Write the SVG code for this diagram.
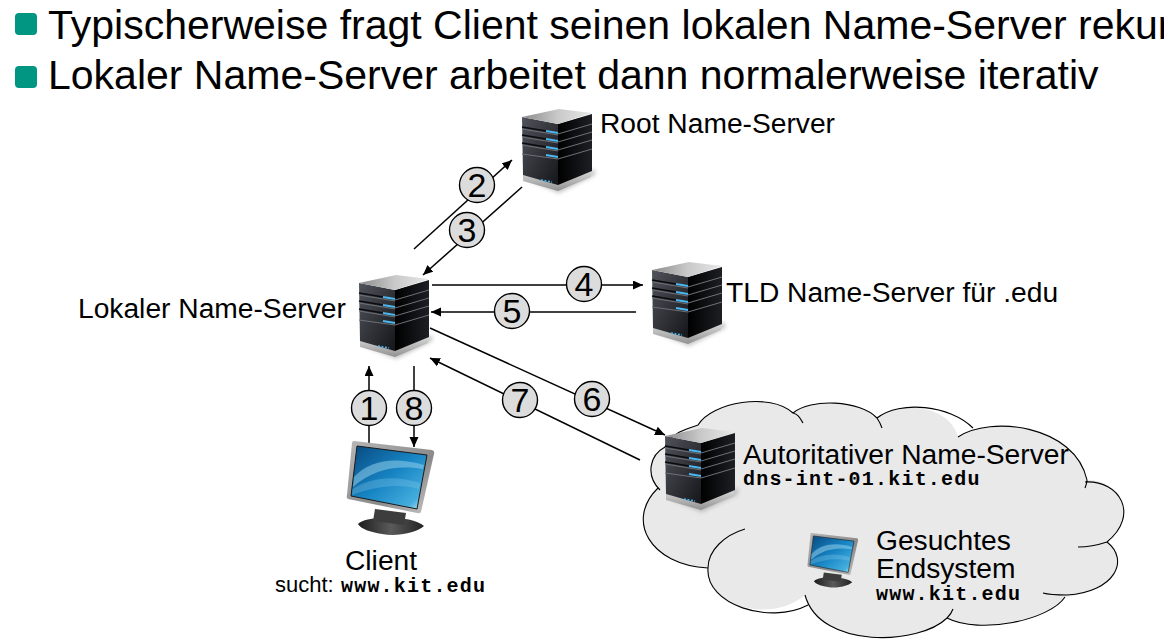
<svg xmlns="http://www.w3.org/2000/svg" width="1164" height="639" viewBox="0 0 1164 639">
<style>
text{font-family:"Liberation Sans",Arial,sans-serif;fill:#000}
.h{font-size:41px}
.l{font-size:28.2px}
.m{font-family:"Liberation Mono","Courier New",monospace;font-weight:bold;font-size:20px;letter-spacing:1.2px}
.s{font-size:22px}
.n{font-size:34px;text-anchor:middle}
.b{fill:#009682}
.c{fill:none;stroke:#000;stroke-width:1.5;marker-end:url(#a)}
.k{fill:#dcdcdc;stroke:#000;stroke-width:1.4}
.cl{fill:none;stroke:#000;stroke-width:1.1}
</style>
<defs>
<marker id="a" markerUnits="userSpaceOnUse" markerWidth="12" markerHeight="12" refX="10" refY="4.5" orient="auto"><path d="M0 0L10 4.5L0 9Z" fill="#000"/></marker>
<linearGradient id="top" x1="0" y1="0" x2="1" y2="0"><stop offset="0" stop-color="#8a8a8a"/><stop offset=".5" stop-color="#c8c8c8"/><stop offset="1" stop-color="#e8e8e8"/></linearGradient>
<linearGradient id="front" x1="0" y1="0" x2="1" y2="1"><stop offset="0" stop-color="#50535b"/><stop offset="1" stop-color="#15161a"/></linearGradient>
<linearGradient id="side" x1="0" y1="0" x2="1" y2="0"><stop offset="0" stop-color="#000"/><stop offset="1" stop-color="#1d1f24"/></linearGradient>
<linearGradient id="base" x1="0" y1="0" x2="0" y2="1"><stop offset="0" stop-color="#dcdcdc"/><stop offset="1" stop-color="#909090"/></linearGradient>
<linearGradient id="scr" x1="0" y1="0" x2="1" y2="1"><stop offset="0" stop-color="#08487f"/><stop offset=".5" stop-color="#1785c4"/><stop offset=".85" stop-color="#45aede"/><stop offset="1" stop-color="#d4f0f8"/></linearGradient>
<linearGradient id="frame" x1="0" y1="0" x2="1" y2="1"><stop offset="0" stop-color="#b8b8b8"/><stop offset=".6" stop-color="#8a8a8a"/><stop offset="1" stop-color="#c6c6c6"/></linearGradient>
<linearGradient id="foot" x1="0" y1="0" x2="1" y2="0"><stop offset="0" stop-color="#1c1c1c"/><stop offset=".5" stop-color="#5a5a5a"/><stop offset="1" stop-color="#222"/></linearGradient>
<filter id="sh" x="-20%" y="-20%" width="140%" height="140%"><feGaussianBlur stdDeviation="2"/></filter>
<symbol id="server" width="80" height="90" viewBox="0 0 80 90" overflow="visible">
<path d="M3 70L37 84L73 66V60L37 75Z" fill="#888" opacity=".5" filter="url(#sh)"/>
<path d="M1 64L36 74L69 61V68L36 82L1 72Z" fill="url(#base)"/>
<path d="M0 8L36 15V76L1 66Z" fill="url(#front)"/>
<path d="M36 15L70 5V62L36 76Z" fill="url(#side)"/>
<path d="M0 8L37 0L70 4L36 15Z" fill="url(#top)"/>
<g fill="none" stroke="#0b0b0d" stroke-width="1.6"><path d="M0 18L36 24M0 26L36 32M0 34L36 40"/></g>
<g fill="none" stroke="#6d7078" stroke-width="1"><path d="M0 20L36 26M0 28L36 34M0 36L36 42M0 45L36 50"/><path d="M36 25L70 15M36 33L70 23M36 41L70 31M36 50L70 40"/></g>
<g fill="none" stroke="#4db8f0" stroke-width="1.8"><path d="M24 22L36 24M24 30L36 32M24 38L36 40M24 46L36 48"/></g>
<path d="M19 71L30 73" stroke="#4db8f0" stroke-width="1.6" stroke-dasharray="2 1.5"/>
</symbol>
<symbol id="monitor" width="90" height="96" viewBox="0 0 90 96" overflow="visible">
<path d="M12 83C20 74 66 74 78 85C70 92 50 96 36 93C24 91 15 88 12 83Z" fill="url(#foot)"/>
<path d="M29 68L60 72L58 84L27 80Z" fill="#3d3d3d"/>
<path d="M8 0L86 9Q89 10 88 13L75 71Q74 73 71 72L2 58Q0 57 1 54L6 2Q6 0 8 0Z" fill="url(#frame)"/>
<path d="M11 5L81 14L71 68L5 55Z" fill="url(#scr)" stroke="#1a1a1a" stroke-width="1"/>
<path d="M8 36C25 18 50 16 78 24L77 28C50 24 28 28 7 46Z" fill="#8fcdea" opacity=".55"/>
<path d="M6.500 48C25 36 50 34 74 42L73 48C50 42 28 46 6 54Z" fill="#8fcdea" opacity=".3"/>
</symbol>
</defs>

<g id="heading">
<rect class="b" x="15" y="13" width="22" height="22" rx="4"/>
<text class="h" x="48" y="39">Typischerweise fragt Client seinen lokalen Name-Server rekur</text>
<rect class="b" x="15" y="66" width="22" height="22" rx="4"/>
<text class="h" x="48" y="89">Lokaler Name-Server arbeitet dann normalerweise iterativ</text>
</g>

<g id="cloud">
<path d="M698 425C712 402 770 392 793 413C810 398 860 400 877 418C900 400 950 405 958 437C990 415 1075 425 1087 480C1120 480 1140 515 1107 542C1130 560 1115 592 1065 597C1050 620 980 635 947 618C920 645 820 650 805 595C770 625 705 605 708 568C650 565 625 520 658 488C645 475 650 455 665 447C672 432 685 430 698 425Z" fill="#e9e9e9"/>
<path class="cl" d="M665 447C672 432 685 430 698 425C712 402 770 392 793 413C798 414 800 418 803 423M793 413C810 398 860 400 877 418C879 421 881 425 882 428M877 418C900 400 950 405 973 428M958 437C990 415 1075 425 1087 480C1087 483 1086 485 1085 488M1085 482C1120 480 1140 515 1107 542C1098 545 1088 547 1078 547M1107 542C1130 560 1115 592 1067 595C1060 595 1050 595 1043 593M1065 597C1050 620 980 635 947 618C950 615 952 612 953 609M947 618C920 645 820 650 805 595M808 605C770 625 705 605 708 568C708 550 725 535 745 529M708 568C650 565 625 520 658 488M660 490C645 475 650 455 665 447"/>
</g>

<g id="connectors">
<path class="c" d="M414 249L512 160"/>
<path class="c" d="M522 187L423 275"/>
<path class="c" d="M432 285L643 285"/>
<path class="c" d="M636 312L431 312"/>
<path class="c" d="M430 328L665 435"/>
<path class="c" d="M640 460L430 358"/>
<path class="c" d="M369 443L369 366"/>
<path class="c" d="M414 366L414 447"/>
</g>

<g id="root-server"><use href="#server" x="522" y="109"/><text class="l" x="600" y="133">Root Name-Server</text></g>
<g id="tld-server"><use href="#server" x="652" y="262"/><text class="l" x="726" y="302">TLD Name-Server für .edu</text></g>
<g id="local-server"><use href="#server" x="359" y="275"/><text class="l" x="78" y="318">Lokaler Name-Server</text></g>
<g id="auth-server"><use href="#server" x="665" y="428"/><text class="l" x="743" y="464">Autoritativer Name-Server</text><text class="m" x="743" y="485">dns-int-01.kit.edu</text></g>
<g id="client"><use href="#monitor" x="346" y="441"/><text class="l" x="345" y="570">Client</text><text class="s" x="275" y="592">sucht:</text><text class="m" x="341" y="592">www.kit.edu</text></g>
<g id="endsystem"><g transform="translate(807 533) scale(.58)"><use href="#monitor"/></g><text class="l" x="876" y="550">Gesuchtes</text><text class="l" x="876" y="578">Endsystem</text><text class="m" x="876" y="600">www.kit.edu</text></g>

<g id="step-1"><circle class="k" cx="369" cy="408" r="17.5"/><text class="n" x="369" y="420">1</text></g>
<g id="step-2"><circle class="k" cx="477" cy="185" r="17.5"/><text class="n" x="477" y="197">2</text></g>
<g id="step-3"><circle class="k" cx="467" cy="230" r="17.5"/><text class="n" x="467" y="242">3</text></g>
<g id="step-4"><circle class="k" cx="584" cy="284" r="17.5"/><text class="n" x="584" y="296">4</text></g>
<g id="step-5"><circle class="k" cx="512" cy="311" r="17.5"/><text class="n" x="512" y="323">5</text></g>
<g id="step-6"><circle class="k" cx="592" cy="399" r="17.5"/><text class="n" x="592" y="411">6</text></g>
<g id="step-7"><circle class="k" cx="520" cy="400" r="17.5"/><text class="n" x="520" y="412">7</text></g>
<g id="step-8"><circle class="k" cx="414" cy="408" r="17.5"/><text class="n" x="414" y="420">8</text></g>
</svg>
